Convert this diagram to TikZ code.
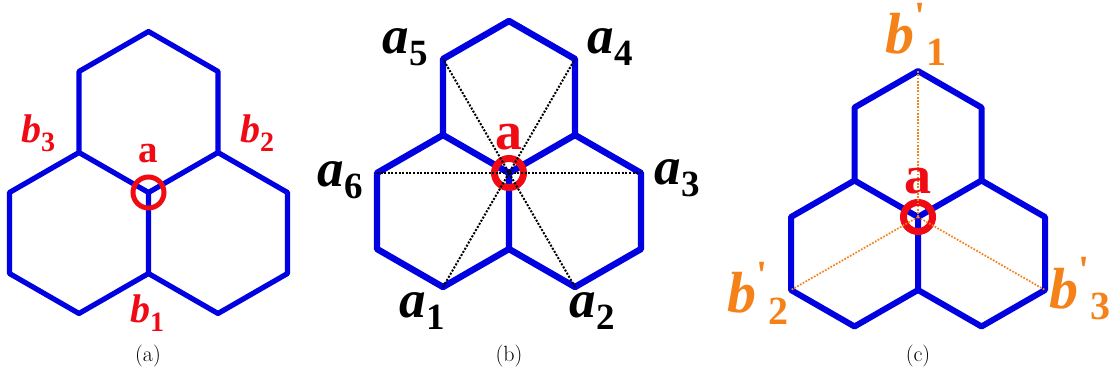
\documentclass[tikz,border=0pt]{standalone}
\usepackage{fontspec}
\usepackage{xcolor}
\newfontfamily\labelfont{Liberation Serif}
\definecolor{LatticeBlue}{RGB}{0,0,225}
\definecolor{SiteRed}{RGB}{240,10,20}
\definecolor{NextOrange}{RGB}{245,130,25}
\newcommand{\sitelbl}[3]{{\labelfont\bfseries\itshape #1}\raisebox{-.22em}{\labelfont\bfseries\fontsize{#3}{#3}\selectfont #2}}
\newcommand{\primelbl}[3]{{\labelfont\bfseries\itshape #1}\raisebox{.42em}{\labelfont\bfseries\fontsize{#3}{#3}\selectfont '}\raisebox{-.2em}{\labelfont\bfseries\fontsize{#3}{#3}\selectfont #2}}
% #1 prefix, #2 #3 centre, #4 half width, #5 rise, #6 side
\newcommand{\honeycomb}[6]{
\coordinate(#1c) at (#2,#3);
\coordinate(#1ul) at (#2-#4,#3-#5);
\coordinate(#1ur) at (#2+#4,#3-#5);
\coordinate(#1tl) at (#2-#4,#3-#5-#6);
\coordinate(#1tr) at (#2+#4,#3-#5-#6);
\coordinate(#1t) at (#2,#3-2*#5-#6);
\coordinate(#1l) at (#2-2*#4,#3);
\coordinate(#1r) at (#2+2*#4,#3);
\coordinate(#1ll) at (#2-2*#4,#3+#6);
\coordinate(#1rr) at (#2+2*#4,#3+#6);
\coordinate(#1d) at (#2,#3+#6);
\coordinate(#1dl) at (#2-#4,#3+#5+#6);
\coordinate(#1dr) at (#2+#4,#3+#5+#6);
\draw[hexline](#1c)--(#1ul)--(#1tl)--(#1t)--(#1tr)--(#1ur)--(#1c)--(#1d)--(#1dl)--(#1ll)--(#1l)--(#1ul);
\draw[hexline](#1ur)--(#1r)--(#1rr)--(#1dr)--(#1d);
}
\begin{document}
\begin{tikzpicture}[x=1pt,y=-1pt,
hexline/.style={draw=LatticeBlue,line width=5.2pt,line join=round},
ring/.style={circle,draw=SiteRed,line width=5pt,minimum size=31pt,inner sep=0pt},
thickring/.style={ring,line width=7pt,minimum size=29pt},
bigsite/.style={text=black,font=\fontsize{53}{53}\selectfont,inner sep=0pt},
redsite/.style={text=SiteRed,font=\fontsize{40}{40}\selectfont,inner sep=0pt},
nextsite/.style={text=NextOrange,font=\fontsize{58}{58}\selectfont,inner sep=0pt},
centre/.style={text=SiteRed,font=\labelfont\bfseries\fontsize{39}{39}\selectfont,inner sep=0pt},
bigcentre/.style={centre,font=\labelfont\bfseries\fontsize{54}{54}\selectfont},
caption/.style={font=\fontsize{22}{22}\selectfont,inner sep=0pt},
blackdots/.style={draw=black,line width=2pt,dash pattern=on 2pt off 1.6pt},
orangedots/.style={draw=NextOrange,line width=1.7pt,dash pattern=on 1.7pt off 1.5pt}]
\useasboundingbox (0,0) rectangle (1110,374);
\fill[white] (0,0) rectangle (1110,374);
% panel a
\honeycomb{A}{148.5}{192.5}{69.5}{40}{81}
\node[ring](Aring) at (Ac){};
\node[centre](Asite) at (148,154){a};
\node[redsite](Ab3) at (38,133){\sitelbl{b}{3}{28}};
\node[redsite](Ab2) at (257,133){\sitelbl{b}{2}{28}};
\node[redsite](Ab1) at (147,313){\sitelbl{b}{1}{28}};
\node[caption](Acap) at (148,356){(a)};
% panel b
\begin{scope}[hexline/.append style={line width=6.4pt}]
\honeycomb{B}{509}{173}{66}{38}{76}
\end{scope}
\node[thickring](Bring) at (Bc){};
\foreach \x/\y in {dl/tr,dr/tl,l/r}{\draw[blackdots](B\x)--(B\y);}
\node[bigcentre](Bsite) at (509,137){a};
\node[bigsite](Ba5) at (405,47){\sitelbl{a}{5}{37}};
\node[bigsite](Ba4) at (610,47){\sitelbl{a}{4}{37}};
\node[bigsite](Ba3) at (677,178){\sitelbl{a}{3}{37}};
\node[bigsite](Ba6) at (340,180){\sitelbl{a}{6}{37}};
\node[bigsite](Ba1) at (422,311){\sitelbl{a}{1}{37}};
\node[bigsite](Ba2) at (592,311){\sitelbl{a}{2}{37}};
\node[caption](Bcap) at (509,356){(b)};
% panel c
\begin{scope}[hexline/.append style={line width=6pt}]
\honeycomb{C}{918}{217}{63.5}{36.5}{73}
\end{scope}
\node[thickring](Cring) at (Cc){};
\foreach \x in {t,ll,rr}{\draw[orangedots](Cc)--(C\x);}
\node[bigcentre](Csite) at (918,181){a};
\node[nextsite](Cb1) at (916,34){\primelbl{b}{1}{40}};
\node[nextsite](Cb2) at (758,293){\primelbl{b}{2}{40}};
\node[nextsite](Cb3) at (1080,289){\primelbl{b}{3}{40}};
\node[caption](Ccap) at (918,356){(c)};
\end{tikzpicture}
\end{document}
